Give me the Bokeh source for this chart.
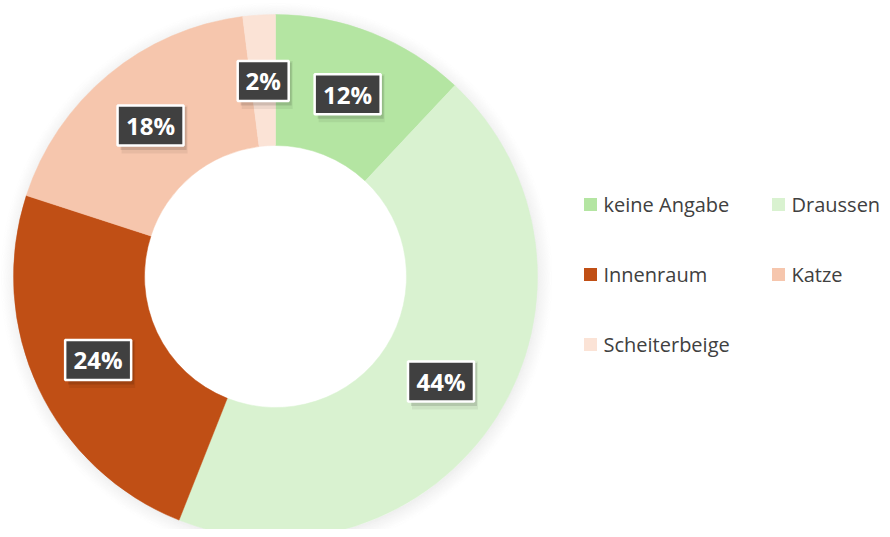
import numpy as np
from bokeh.plotting import figure
from bokeh.models import Range1d, ColumnDataSource
from bokeh.embed import file_html
from bokeh.resources import INLINE
from bokeh.core.properties import value

categories = ["keine Angabe", "Draussen", "Innenraum", "Katze", "Scheiterbeige"]
shares = [12, 44, 24, 18, 2]
pct_labels = ["12%", "44%", "24%", "18%", "2%"]
colors = ["#B4E5A2", "#D9F2D0", "#C04F15", "#F6C6AD", "#FBE3D6"]

W, H = 882, 529
IMG_H = 537

def Y(img_y):
    return IMG_H - img_y

p = figure(width=W, height=H, x_range=Range1d(0, W), y_range=Range1d(IMG_H - H, IMG_H),
           output_backend="svg", toolbar_location=None, min_border=0)
p.axis.visible = False
p.grid.visible = False
p.outline_line_color = None
p.background_fill_color = "white"

cx, cy = 275, Y(276)
R_out, R_in = 262, 131

# soft shadow around the ring
for k in range(18):
    a = 0.13 * (1 - k / 18) ** 1.5
    p.annulus(x=[cx + 1], y=[cy - 2], inner_radius=R_out - 2 + k, outer_radius=R_out - 1 + k,
              fill_color="#808080", fill_alpha=a, line_color=None)

vals = np.array(shares, dtype=float)
frac = vals / vals.sum()
cum = np.concatenate([[0], np.cumsum(frac)])
start = np.pi / 2 - 2 * np.pi * cum[:-1]
end = np.pi / 2 - 2 * np.pi * cum[1:]

src = ColumnDataSource(dict(start=start, end=end, color=colors, cat=categories))
p.annular_wedge(x=cx, y=cy, inner_radius=R_in, outer_radius=R_out,
                start_angle="start", end_angle="end", direction="clock",
                fill_color="color", line_color="color", line_width=0.5, source=src)

# data labels
mid = 2 * np.pi * (cum[:-1] + cum[1:]) / 2
r_lab = 196
lx = cx + r_lab * np.sin(mid)
ly = cy + r_lab * np.cos(mid)
bw = np.array([15 * len(s) + 21 for s in pct_labels], dtype=float)
bh = 40
lsrc = ColumnDataSource(dict(x=lx, y=ly, w=bw, t=pct_labels,
                             sx=lx + 4, sy=ly - 4, sx2=lx + 3, sy2=ly - 3))
p.rect(x="sx", y="sy", width="w", height=bh + 8, fill_color="black", fill_alpha=0.06,
       line_color=None, source=lsrc)
p.rect(x="sx2", y="sy2", width="w", height=bh + 3, fill_color="black", fill_alpha=0.12,
       line_color=None, source=lsrc)
p.rect(x="x", y="y", width="w", height=bh, fill_color="#404040", line_color="white",
       line_width=2.5, source=lsrc)
p.text(x="x", y="y", text="t", text_color="white", text_font=value("Open Sans"),
       text_font_style="bold", text_font_size="24px", text_align="center",
       text_baseline="middle", source=lsrc)

# legend
col_sq = [590, 778]
col_tx = [603, 791]
row_y = [204, 274, 344]
gx, gy, tx = [], [], []
for i, c in enumerate(categories):
    col, row = i % 2, i // 2
    gx.append(col_sq[col]); tx.append(col_tx[col]); gy.append(Y(row_y[row]))
gsrc = ColumnDataSource(dict(x=gx, y=gy, tx=tx, c=colors, t=categories))
p.rect(x="x", y="y", width=13, height=13, fill_color="c", line_color=None, source=gsrc)
p.text(x="tx", y="y", text="t", text_color="#404040", text_font=value("Open Sans"),
       text_font_size="20px", text_align="left", text_baseline="middle", source=gsrc)

open("out.html", "w").write(file_html(p, INLINE))
